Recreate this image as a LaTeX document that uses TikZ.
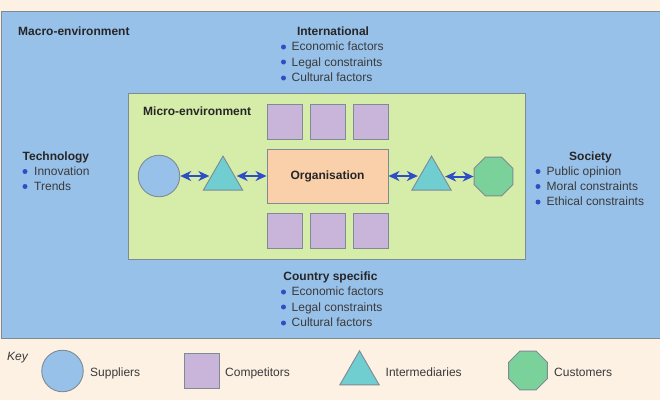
\documentclass[tikz,border=0pt]{standalone}
\usepackage{fontspec}
\setmainfont{Liberation Sans}
\usetikzlibrary{shapes.geometric,arrows.meta}
\definecolor{cream}{HTML}{FCF1E3}
\definecolor{macroblue}{HTML}{98C1EA}
\definecolor{microgreen}{HTML}{D6EDAA}
\definecolor{comppurple}{HTML}{C9B4DA}
\definecolor{orgpeach}{HTML}{F9D0A9}
\definecolor{interteal}{HTML}{70CDD0}
\definecolor{custgreen}{HTML}{7AD29A}
\definecolor{edgegray}{HTML}{7E8A94}
\definecolor{arrblue}{HTML}{2E4FC4}
\definecolor{txtgray}{HTML}{3A3A3A}
\tikzset{
  edge/.style={draw=edgegray, line width=0.9pt},
  supplier/.style={edge, circle, fill=macroblue, minimum size=41.5pt, inner sep=0pt},
  competitor/.style={edge, rectangle, fill=comppurple, minimum size=35pt, inner sep=0pt},
  intermediary/.style={edge, regular polygon, regular polygon sides=3, fill=interteal, minimum size=45.5pt, inner sep=0pt},
  customer/.style={edge, regular polygon, regular polygon sides=8, fill=custgreen, minimum size=42pt, inner sep=0pt},
  orgbox/.style={edge, rectangle, fill=orgpeach, minimum width=121pt, minimum height=54pt, inner sep=0pt, font=\bfseries\fontsize{12}{14}\selectfont, text=black!85},
  txt/.style={inner sep=0pt, text height=8.6pt, text depth=0pt, font=\fontsize{12}{14}\selectfont, text=txtgray},
  head/.style={txt, font=\bfseries\fontsize{12}{14}\selectfont, text=black!85},
  bul/.style={circle, fill=arrblue, inner sep=0pt, minimum size=5pt},
  link/.style={arrblue, line width=2pt, {Stealth[length=11pt,width=10pt,inset=3.5pt]}-{Stealth[length=11pt,width=10pt,inset=3.5pt]}}
}
\begin{document}
\begin{tikzpicture}[x=1pt,y=-1pt]
\useasboundingbox (0,0) rectangle (660,400);
\fill[cream] (0,0) rectangle (660,400);
% macro-environment
\draw[edge, fill=macroblue] (1,11) rectangle (663,338);
% micro-environment
\draw[edge, fill=microgreen] (128,93) rectangle (525,259);

% labels
\node[head, anchor=west] (macrolbl) at (18,31) {Macro-environment};
\node[head, anchor=west] (microlbl) at (143,111) {Micro-environment};

% International
\node[head] (intl) at (333,31) {International};
\node[bul] (ib1) at (283.5,47) {};
\node[txt, anchor=west] (i1) at (291.5,46.5) {Economic factors};
\node[bul] (ib2) at (283.5,62) {};
\node[txt, anchor=west] (i2) at (291.5,62) {Legal constraints};
\node[bul] (ib3) at (283.5,78) {};
\node[txt, anchor=west] (i3) at (291.5,77.5) {Cultural factors};

% Country specific
\node[head] (ctry) at (330.5,276) {Country specific};
\node[bul] (cb1) at (283.5,292) {};
\node[txt, anchor=west] (c1) at (291.5,291.5) {Economic factors};
\node[bul] (cb2) at (283.5,307) {};
\node[txt, anchor=west] (c2) at (291.5,307) {Legal constraints};
\node[bul] (cb3) at (283.5,323) {};
\node[txt, anchor=west] (c3) at (291.5,322.5) {Cultural factors};

% Technology
\node[head, anchor=west] (tech) at (22.5,156) {Technology};
\node[bul] (tb1) at (25,171.5) {};
\node[txt, anchor=west] (t1) at (34,171) {Innovation};
\node[bul] (tb2) at (25,186.5) {};
\node[txt, anchor=west] (t2) at (34,186) {Trends};

% Society
\node[head] (soc) at (590.5,156) {Society};
\node[bul] (sb1) at (538,171.5) {};
\node[txt, anchor=west] (s1) at (546.5,171) {Public opinion};
\node[bul] (sb2) at (538,186.5) {};
\node[txt, anchor=west] (s2) at (546.5,186) {Moral constraints};
\node[bul] (sb3) at (538,202) {};
\node[txt, anchor=west] (s3) at (546.5,201.5) {Ethical constraints};

% competitors
\node[competitor] (ct1) at (284.5,121.5) {};
\node[competitor] (ct2) at (327.5,121.5) {};
\node[competitor] (ct3) at (370.5,121.5) {};
\node[competitor] (cb1sq) at (284.5,230.5) {};
\node[competitor] (cb2sq) at (327.5,230.5) {};
\node[competitor] (cb3sq) at (370.5,230.5) {};

% organisation
\node[orgbox] (org) at (327.5,176) {Organisation};

% chain
\node[supplier] (sup) at (159,176) {};
\node[intermediary] (int1) at (223,178.8) {};
\node[intermediary] (int2) at (431.5,178.8) {};
\node[customer] (cus) at (493.5,176.5) {};

\draw[link] (sup.east) -- (sup.east -| int1.west);
\draw[link] (int1.east |- org.west) -- (org.west);
\draw[link] (org.east) -- (org.east -| int2.west);
\draw[link] (int2.east |- cus.west) -- (cus.west);

% key
\node[txt, anchor=west, font=\itshape\fontsize{12}{14}\selectfont] (key) at (7,356) {Key};
\node[supplier] (ksup) at (62.5,371) {};
\node[txt, anchor=west] (ksupl) at (90,372) {Suppliers};
\node[competitor] (kcomp) at (201.5,370.5) {};
\node[txt, anchor=west] (kcompl) at (225,372) {Competitors};
\node[intermediary] (kint) at (359.5,373.5) {};
\node[txt, anchor=west] (kintl) at (385.5,372) {Intermediaries};
\node[customer] (kcus) at (528,370.5) {};
\node[txt, anchor=west] (kcusl) at (554,372) {Customers};
\end{tikzpicture}
\end{document}
